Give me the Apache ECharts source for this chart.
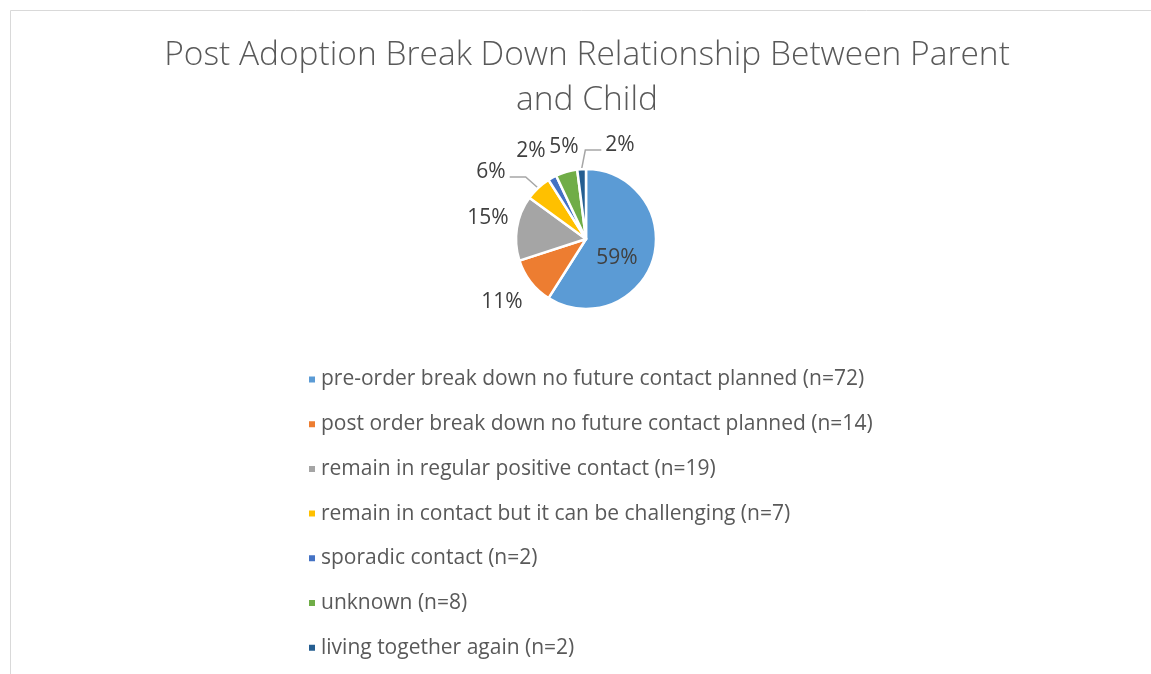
<!DOCTYPE html>
<html>
<head>
<meta charset="utf-8">
<script src="https://cdn.jsdelivr.net/npm/echarts@6/dist/echarts.min.js"></script>
<style>
  html, body { margin: 0; padding: 0; background: #fff; }
  #chart { width: 1151px; height: 674px; }
</style>
</head>
<body>
<div id="chart"></div>
<script>
// categories shown in the legend
const categories = [
  'pre-order break down no future contact planned (n=72)',
  'post order break down no future contact planned (n=14)',
  'remain in regular positive contact (n=19)',
  'remain in contact but it can be challenging (n=7)',
  'sporadic contact (n=2)',
  'unknown (n=8)',
  'living together again (n=2)'
]
// percentage shown on each slice
const shares = [59, 11, 15, 6, 2, 5, 2]
const colors = ['#5B9BD5', '#ED7D31', '#A5A5A5', '#FFC000', '#4472C4', '#70AD47', '#255E91']
// slices whose label keeps a leader line
const withLine = [false, false, false, true, false, false, true]

const pieCenter = [586, 239]
// where each data label sits, relative to the pie centre (labels were dragged in the original)
const labelSpots = [[31, 19], [-84, 63], [-98, -21], [-95, -67], [-55, -88], [-22, -92], [34, -94]]

const chart = echarts.init(document.getElementById('chart'))

const pieData = categories.map((name, i) => ({
  name: name,
  value: shares[i],
  itemStyle: { color: colors[i] },
  labelLine: { show: withLine[i] }
}))

chart.setOption({
  backgroundColor: '#fff',
  graphic: [{
    type: 'rect',
    shape: { x: 10.5, y: 10.5, width: 1300, height: 800 },
    style: { fill: 'none', stroke: '#d9d9d9', lineWidth: 1 },
    silent: true
  }],
  title: {
    text: 'Post Adoption Break Down Relationship Between Parent\nand Child',
    left: 582,
    textAlign: 'center',
    top: 28,
    textStyle: {
      fontFamily: 'Open Sans',
      fontWeight: 300,
      fontSize: 33.5,
      lineHeight: 45,
      color: '#595959'
    }
  },
  legend: {
    orient: 'vertical',
    left: 302,
    top: 364,
    itemWidth: 8,
    itemHeight: 8,
    itemGap: 23.7,
    icon: 'rect',
    textStyle: {
      fontFamily: 'Open Sans',
      fontSize: 21,
      lineHeight: 20,
      color: '#595959'
    },
    data: categories
  },
  series: [{
    type: 'pie',
    center: pieCenter,
    radius: 70,
    startAngle: 90,
    clockwise: true,
    avoidLabelOverlap: false,
    itemStyle: { borderColor: '#fff', borderWidth: 2.5 },
    label: {
      show: true,
      formatter: '{c}%',
      fontFamily: 'Open Sans',
      fontSize: 21,
      color: '#404040'
    },
    labelLine: {
      length: 10,
      length2: 10,
      lineStyle: { color: '#a6a6a6', width: 1.5 }
    },
    labelLayout: function (params) {
      const i = params.dataIndex
      const spot = labelSpots[i]
      const x = pieCenter[0] + spot[0]
      const y = pieCenter[1] + spot[1]
      const out = { x: x, y: y, align: 'center', verticalAlign: 'middle' }
      if (withLine[i] && params.labelLinePoints) {
        const p0 = params.labelLinePoints[0]
        const dir = p0[0] > x ? 1 : -1
        const end = [x + dir * (params.labelRect.width / 2 + 4), y + 5]
        const elbow = [end[0] + dir * 16, end[1]]
        out.labelLinePoints = [p0, elbow, end]
      }
      return out
    },
    data: pieData
  }]
})
</script>
</body>
</html>
